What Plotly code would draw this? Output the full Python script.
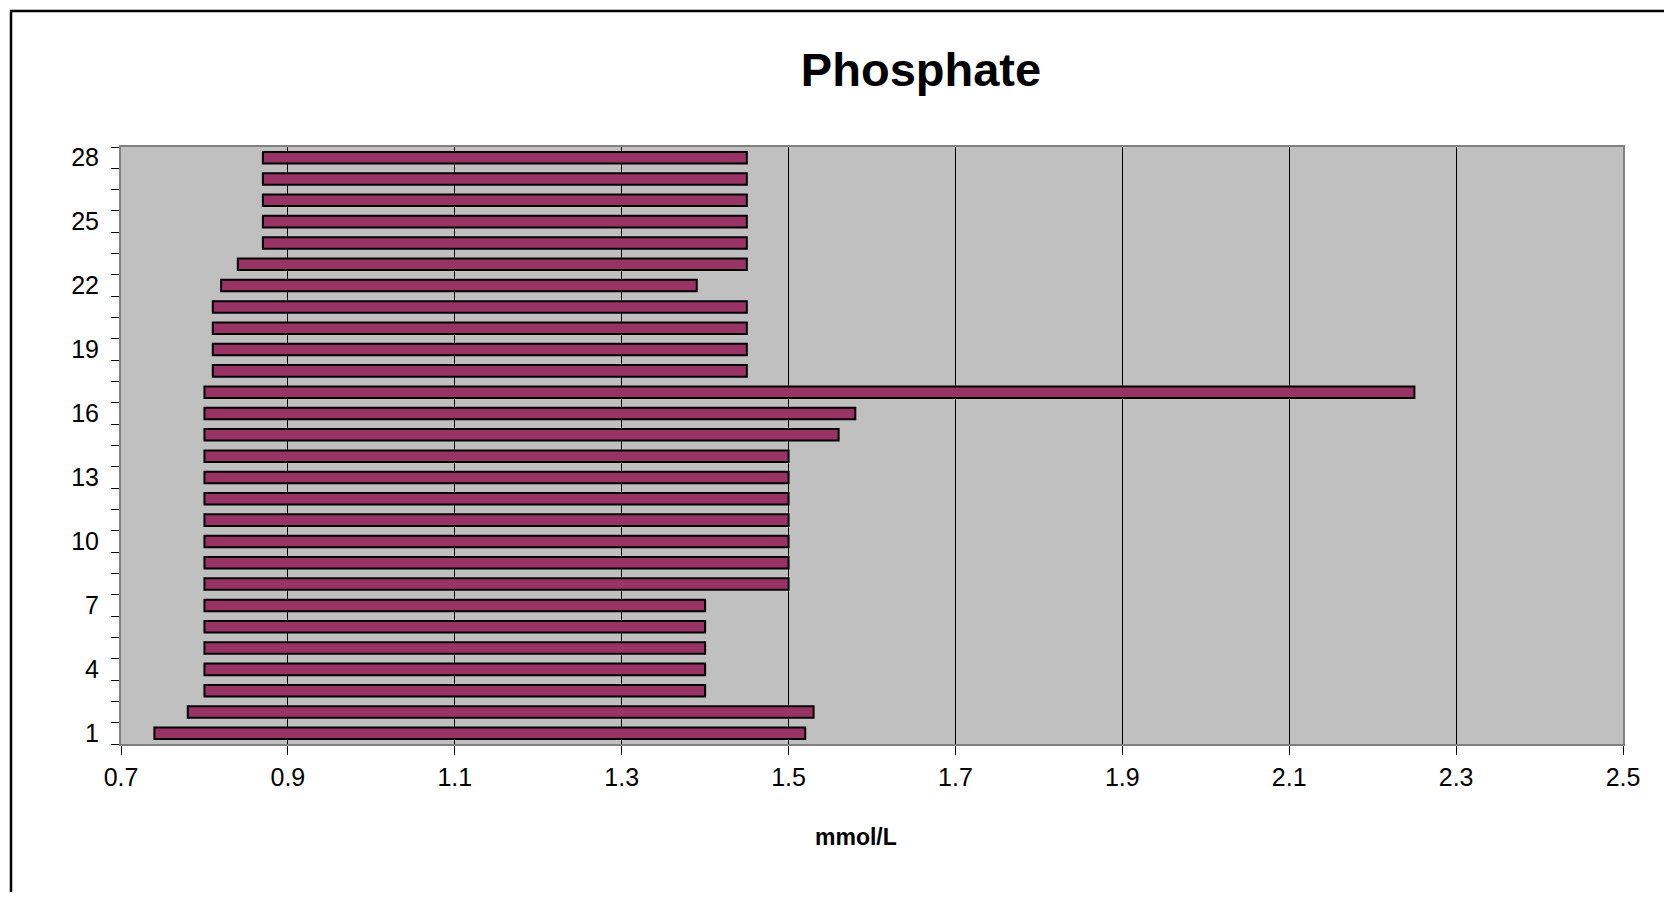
import plotly.graph_objects as go

# ---- data ----
patients = list(range(1, 29))
low = [0.74, 0.78, 0.80, 0.80, 0.80, 0.80, 0.80,
       0.80, 0.80, 0.80, 0.80, 0.80, 0.80, 0.80, 0.80,
       0.80, 0.80,
       0.81, 0.81, 0.81, 0.81,
       0.82, 0.84,
       0.87, 0.87, 0.87, 0.87, 0.87]
high = [1.52, 1.53, 1.40, 1.40, 1.40, 1.40, 1.40,
        1.50, 1.50, 1.50, 1.50, 1.50, 1.50, 1.50, 1.56,
        1.58, 2.25,
        1.45, 1.45, 1.45, 1.45,
        1.39, 1.45,
        1.45, 1.45, 1.45, 1.45, 1.45]
x_ticks = [0.7, 0.9, 1.1, 1.3, 1.5, 1.7, 1.9, 2.1, 2.3, 2.5]
y_labels = [1, 4, 7, 10, 13, 16, 19, 22, 25, 28]

span = [h - l for h, l in zip(high, low)]

# page has an 8px body margin; work in figure coordinates
OFF = 8
W, H = 1672 - 2 * OFF, 900 - 2 * OFF
L, R, T, B = 121 - OFF, 1623 - OFF, 147 - OFF, 744 - OFF
pw, ph = R - L, B - T

fig = go.Figure()
fig.add_trace(go.Bar(
    y=patients, x=span, base=low, orientation="h",
    width=0.54,
    marker=dict(color="#993366", line=dict(color="#000000", width=2)),
    showlegend=False,
))

font = "Liberation Sans, Arial, sans-serif"

fig.update_layout(
    width=W, height=H,
    margin=dict(l=L, r=W - R, t=T, b=H - B, pad=0),
    paper_bgcolor="#FFFFFF",
    plot_bgcolor="#C0C0C0",
    title=dict(text="<b>Phosphate</b>", xref="container", yref="container",
               x=(921 - OFF) / W, y=1 - (70 - OFF) / H,
               xanchor="center", yanchor="middle",
               font=dict(family=font, size=47, color="#000000")),
    xaxis=dict(
        range=[0.7, 2.5], tickmode="array", tickvals=x_ticks,
        ticktext=[f"{v:.1f}" for v in x_ticks],
        ticks="outside", ticklen=9, tickcolor="#000000", tickwidth=1,
        showgrid=True, gridcolor="#000000", gridwidth=1,
        showline=True, linecolor="#808080", linewidth=2, mirror=True,
        zeroline=False,
        tickfont=dict(family=font, size=25, color="#000000"),
        ticklabelstandoff=1,
    ),
    yaxis=dict(
        range=[0.5, 28.5], tickmode="array", tickvals=y_labels,
        ticktext=[str(v) for v in y_labels],
        ticks="",
        minor=dict(tickmode="array", tickvals=[i + 0.5 for i in range(0, 29)],
                   ticks="outside", ticklen=8, tickcolor="#000000", tickwidth=1,
                   showgrid=False),
        showgrid=False,
        showline=True, linecolor="#808080", linewidth=2, mirror=True,
        zeroline=False,
        tickfont=dict(family=font, size=25, color="#000000"),
        ticklabelstandoff=15,
    ),
    annotations=[dict(
        text="<b>mmol/L</b>", xref="paper", yref="paper",
        x=(856 - OFF - L) / pw, y=-(837 - OFF - B) / ph,
        xanchor="center", yanchor="middle",
        showarrow=False, font=dict(family=font, size=23, color="#000000"),
    )],
    shapes=[
        # chart frame (top and left edges visible, rest runs off the page)
        dict(type="rect", xref="paper", yref="paper", layer="above",
             x0=-(L - 3) / pw, x1=1 + (W - R + 20) / pw,
             y0=-(H - B + 20) / ph, y1=1 + (T - 3) / ph,
             fillcolor="rgba(0,0,0,0)", line=dict(color="#000000", width=2.5)),
    ],
)

fig.write_html("out.html")
